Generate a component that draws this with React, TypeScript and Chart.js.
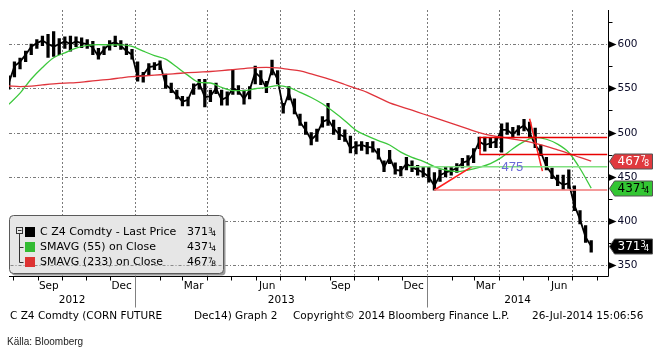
import { useEffect, useRef } from 'react';
import { Chart, registerables } from 'chart.js';

Chart.register(...registerables);

const W = 661;
const H = 355;
const FONT = '"DejaVu Sans", Verdana, sans-serif';
const ORIGIN = Date.UTC(2012, 9, 1);
const dayOf = (s: string) => (Date.parse(s + 'T00:00:00Z') - ORIGIN) / 86400000;

// ---- weekly price data (C Z4 Comdty) ----
const weekDates = [
  '2012-07-27', '2012-08-03', '2012-08-10', '2012-08-17', '2012-08-24', '2012-08-31', '2012-09-07', '2012-09-14',
  '2012-09-21', '2012-09-28', '2012-10-05', '2012-10-12', '2012-10-19', '2012-10-26', '2012-11-02', '2012-11-09',
  '2012-11-16', '2012-11-23', '2012-11-30', '2012-12-07', '2012-12-14', '2012-12-21', '2012-12-28',
  '2013-01-04', '2013-01-11', '2013-01-18', '2013-01-25', '2013-02-01', '2013-02-08', '2013-02-15', '2013-02-22',
  '2013-03-01', '2013-03-08', '2013-03-15', '2013-03-22', '2013-03-29', '2013-04-05', '2013-04-12', '2013-04-19',
  '2013-04-26', '2013-05-03', '2013-05-10', '2013-05-17', '2013-05-24', '2013-05-31', '2013-06-07', '2013-06-14',
  '2013-06-21', '2013-06-28', '2013-07-05', '2013-07-12', '2013-07-19', '2013-07-26', '2013-08-02', '2013-08-09',
  '2013-08-16', '2013-08-23', '2013-08-30', '2013-09-06', '2013-09-13', '2013-09-20', '2013-09-27', '2013-10-04',
  '2013-10-11', '2013-10-18', '2013-10-25', '2013-11-01', '2013-11-08', '2013-11-15', '2013-11-22', '2013-11-29',
  '2013-12-06', '2013-12-13', '2013-12-20', '2013-12-27',
  '2014-01-03', '2014-01-10', '2014-01-17', '2014-01-24', '2014-01-31', '2014-02-07', '2014-02-14', '2014-02-21',
  '2014-02-28', '2014-03-07', '2014-03-14', '2014-03-21', '2014-03-28', '2014-04-04', '2014-04-11', '2014-04-18',
  '2014-04-25', '2014-05-02', '2014-05-09', '2014-05-16', '2014-05-23', '2014-05-30', '2014-06-06', '2014-06-13',
  '2014-06-20', '2014-06-27', '2014-07-04', '2014-07-11', '2014-07-18', '2014-07-25',
];
const highs = [
  564, 580, 584, 592, 600, 605, 609, 611, 614, 606, 608, 609, 608, 607, 605, 603, 595, 597, 604, 609, 604, 600, 594,
  580, 568, 578, 579, 581, 566, 556, 548, 541, 540, 555, 560, 560, 548, 556, 548, 546, 571, 553, 548, 552, 575, 570,
  558, 582, 570, 533, 552, 538, 521, 512, 500, 504, 518, 533, 514, 506, 503, 496, 490, 490, 489, 490, 482, 468, 480,
  466, 462, 472, 468, 463, 462,
  461, 455, 458, 461, 462, 465, 471, 474, 482, 495, 495, 494, 495, 510, 511, 506, 508, 515, 512, 505, 486, 472, 460,
  452, 452, 458, 440, 412, 395, 378,
];
const lows = [
  549, 563, 572, 580, 588, 595, 598, 585, 586, 588, 595, 592, 597, 596, 595, 588, 583, 588, 593, 597, 594, 588, 583,
  558, 557, 565, 571, 571, 550, 545, 538, 530, 530, 543, 549, 529, 535, 544, 531, 531, 543, 543, 532, 538, 555, 554,
  545, 565, 555, 522, 537, 521, 508, 498, 486, 490, 506, 508, 498, 492, 490, 477, 476, 480, 476, 478, 470, 456, 465,
  453, 451, 458, 456, 452, 450,
  444, 435, 445, 450, 452, 455, 460, 463, 466, 482, 479, 483, 483, 478, 498, 494, 497, 502, 494, 483, 474, 458, 448,
  440, 436, 437, 412, 397, 376, 365,
];
const closes = [
  556, 575, 580, 588, 597, 601, 604, 600, 597, 600, 603, 600, 603, 601, 600, 596, 586, 594, 600, 602, 598, 592, 588,
  563, 565, 574, 575, 578, 554, 549, 542, 535, 537, 552, 556, 540, 541, 550, 537, 540, 550, 547, 538, 548, 568, 562,
  550, 572, 560, 527, 545, 526, 512, 503, 492, 498, 512, 515, 505, 498, 495, 482, 485, 486, 484, 483, 475, 461, 472,
  458, 457, 465, 461, 458, 455,
  450, 440, 452, 455, 457, 460, 466, 468, 476, 490, 486, 488, 490, 503, 503, 498, 504, 508, 500, 486, 478, 462, 453,
  445, 441, 443, 418, 402, 382, 371.75,
];

// ---- moving averages read every second week ----
const maDates = weekDates.filter((_, i) => i % 2 === 0);
const sma55 = [
  532, 544.5, 560.5, 573.5, 584.5, 590, 595.3, 598.4, 599.3, 599, 599, 597.3, 592, 587, 583, 574, 564.6, 556.8, 556,
  551, 547.5, 547.5, 549.5, 550.8, 553, 551, 545.5, 539.6, 532.5, 523.5, 513.5, 502.5, 496.3, 491, 486, 478, 472,
  467.6, 461.7, 457.6, 456, 457.8, 460.8, 465, 472, 481.8, 489.8, 494.6, 492.5, 487, 477.5, 459.5, 437.25,
];
const sma233 = [
  552.6, 552, 552.5, 553.8, 555, 555.9, 556.5, 557.7, 559, 560.2, 561.8, 563.2, 563.9, 564.8, 565.8, 566.7, 567.6,
  568.3, 569, 570, 571.2, 572.3, 573.4, 573.7, 573.1, 571.3, 569.6, 566.2, 562.5, 558.6, 554.3, 550, 545.5, 539.5,
  533.5, 529.4, 525.3, 521, 516.9, 512.8, 508.5, 504.2, 500, 496.9, 494.8, 492.7, 490.6, 487.8, 484.5, 480.5, 476.4,
  472, 467.875,
];

// ---- drawn annotations (trend tools) ----
const rangeBoxDates = ['2014-08-14', '2014-03-08', '2014-03-08', '2014-08-14'];
const rangeBoxValues = [494.4, 494.4, 475.3, 475.3];
const supportDates = ['2014-01-10', '2014-08-14'];
const supportValues = [435.2, 435.2];
const greenLevelDates = ['2013-12-08', '2014-08-14'];
const greenLevelValues = [461.5, 461.5];
const upTrendDates = ['2014-01-10', '2014-02-26'];
const upTrendValues = [435.2, 461.5];
const downTrendDates = ['2014-05-09', '2014-05-25'];
const downTrendValues = [515.7, 456.6];
const levelLabel = '475';
const levelLabelDate = '2014-04-04';
const levelLabelValue = 461;

// ---- axes ----
const yTicks = [350, 400, 450, 500, 550, 600];
const yMinor = [375, 425, 475, 525, 575, 625];
const gridDates = ['2012-10-01', '2013-01-01', '2013-04-01', '2013-07-01', '2013-10-01', '2014-01-01', '2014-04-01', '2014-07-01'];
const monthTickDates = [
  '2012-08-01', '2012-09-01', '2012-10-01', '2012-11-01', '2012-12-01', '2013-01-01', '2013-02-01', '2013-03-01',
  '2013-04-01', '2013-05-01', '2013-06-01', '2013-07-01', '2013-08-01', '2013-09-01', '2013-10-01', '2013-11-01',
  '2013-12-01', '2014-01-01', '2014-02-01', '2014-03-01', '2014-04-01', '2014-05-01', '2014-06-01', '2014-07-01',
  '2014-08-01',
];
const monthLabels = ['Sep', 'Dec', 'Mar', 'Jun', 'Sep', 'Dec', 'Mar', 'Jun'];
const monthLabelDates = ['2012-09-15', '2012-12-15', '2013-03-15', '2013-06-15', '2013-09-15', '2013-12-15', '2014-03-15', '2014-06-15'];
const yearLabels = ['2012', '2013', '2014'];
const yearBoundaryDates = ['2013-01-01', '2014-01-01'];

// ---- legend / tags ----
const legendNames = ['C Z4 Comdty - Last Price', 'SMAVG (55) on Close', 'SMAVG (233) on Close'];
const legendColors = ['#000000', '#33bb33', '#dd3333'];
const lastValues = [371.75, 437.25, 467.875];
const lastInts = ['371', '437', '467'];
const lastNums = ['3', '1', '7'];
const lastDens = ['4', '4', '8'];
const tagFills = ['#000000', '#33c633', '#e03a3e'];
const tagText = ['#ffffff', '#000000', '#ffffff'];

const footerParts = ['C Z4 Comdty (CORN FUTURE', 'Dec14) Graph 2', 'Copyright\u00a9 2014 Bloomberg Finance L.P.', '26-Jul-2014 15:06:56'];
const footerX = [10, 194, 293, 532];
const sourceText = 'Källa: Bloomberg';

function pts(dates: string[], vals: number[]) {
  return dates.map((d, i) => ({ x: dayOf(d), y: vals[i] }));
}

function fracWidth(ctx: CanvasRenderingContext2D, main: string, num: string, den: string, size: number) {
  ctx.font = `${size}px ${FONT}`;
  const mw = ctx.measureText(main).width;
  ctx.font = `${size * 0.68}px ${FONT}`;
  const nw = ctx.measureText(num).width;
  const dw = ctx.measureText(den).width;
  return mw + nw * 0.7 + dw;
}

function drawFrac(ctx: CanvasRenderingContext2D, x: number, yc: number, main: string, num: string, den: string, size: number, color: string) {
  ctx.fillStyle = color;
  ctx.textAlign = 'left';
  ctx.font = `${size}px ${FONT}`;
  ctx.textBaseline = 'middle';
  ctx.fillText(main, x, yc);
  const mw = ctx.measureText(main).width;
  ctx.font = `${size * 0.68}px ${FONT}`;
  ctx.textBaseline = 'top';
  ctx.fillText(num, x + mw, yc - size * 0.45);
  const nw = ctx.measureText(num).width;
  ctx.textBaseline = 'bottom';
  ctx.fillText(den, x + mw + nw * 0.7, yc + size * 0.5);
}

const bloombergPlugin = {
  id: 'bloombergFrame',
  beforeDatasetsDraw(chart: any) {
    const { ctx, chartArea: a } = chart;
    const xs = chart.scales.x;
    const ys = chart.scales.y;
    ctx.save();
    ctx.strokeStyle = '#7a7a7a';
    ctx.lineWidth = 1;
    ctx.setLineDash([3, 2, 1, 2]);
    yTicks.forEach((v) => {
      const py = Math.round(ys.getPixelForValue(v)) + 0.5;
      ctx.beginPath();
      ctx.moveTo(a.left, py);
      ctx.lineTo(a.right, py);
      ctx.stroke();
    });
    ctx.setLineDash([2, 2]);
    gridDates.forEach((d) => {
      const px = Math.round(xs.getPixelForValue(dayOf(d))) + 0.5;
      ctx.beginPath();
      ctx.moveTo(px, a.top);
      ctx.lineTo(px, a.bottom);
      ctx.stroke();
    });
    ctx.restore();
  },
  afterDatasetsDraw(chart: any) {
    const { ctx, chartArea: a } = chart;
    const xs = chart.scales.x;
    const ys = chart.scales.y;
    const X = (s: string) => xs.getPixelForValue(dayOf(s));
    const Y = (v: number) => ys.getPixelForValue(v);
    ctx.save();

    // level label
    ctx.fillStyle = '#6b6bd6';
    ctx.font = '13px "Liberation Sans", Arial, sans-serif';
    ctx.textAlign = 'left';
    ctx.textBaseline = 'middle';
    ctx.fillText(levelLabel, X(levelLabelDate), Y(levelLabelValue));

    // axes lines
    const bottom = Math.round(a.bottom) + 0.5;
    const right = Math.round(a.right) + 0.5;
    ctx.strokeStyle = '#000';
    ctx.lineWidth = 1;
    ctx.beginPath();
    ctx.moveTo(a.left, bottom);
    ctx.lineTo(right, bottom);
    ctx.moveTo(right, a.top);
    ctx.lineTo(right, bottom);
    ctx.stroke();

    // month ticks
    ctx.beginPath();
    monthTickDates.forEach((d) => {
      const px = Math.round(X(d)) + 0.5;
      ctx.moveTo(px, bottom);
      ctx.lineTo(px, bottom + 4);
    });
    ctx.stroke();

    // year separators
    ctx.strokeStyle = '#808080';
    ctx.beginPath();
    yearBoundaryDates.forEach((d) => {
      const px = Math.round(X(d)) + 0.5;
      ctx.moveTo(px, bottom);
      ctx.lineTo(px, bottom + 31);
    });
    ctx.stroke();

    // month + year labels
    ctx.fillStyle = '#000';
    ctx.font = `10.5px ${FONT}`;
    ctx.textAlign = 'center';
    ctx.textBaseline = 'middle';
    monthLabels.forEach((m, i) => ctx.fillText(m, X(monthLabelDates[i]), bottom + 9.5));
    const bounds = [a.left, X(yearBoundaryDates[0]), X(yearBoundaryDates[1]), a.right];
    yearLabels.forEach((t, i) => ctx.fillText(t, (bounds[i] + bounds[i + 1]) / 2, bottom + 23.5));

    // y axis ticks + labels
    ctx.textAlign = 'left';
    ctx.strokeStyle = '#000';
    yMinor.forEach((v) => {
      const py = Math.round(Y(v)) + 0.5;
      ctx.beginPath();
      ctx.moveTo(right, py);
      ctx.lineTo(right + 4, py);
      ctx.stroke();
    });
    yTicks.forEach((v) => {
      const py = Math.round(Y(v)) + 0.5;
      ctx.fillStyle = '#000';
      ctx.beginPath();
      ctx.moveTo(right, py - 3.5);
      ctx.lineTo(right + 8, py);
      ctx.lineTo(right, py + 3.5);
      ctx.closePath();
      ctx.fill();
      ctx.fillStyle = '#0a0a28';
      ctx.font = `10.5px ${FONT}`;
      ctx.textAlign = 'left';
      ctx.textBaseline = 'middle';
      ctx.fillText(String(v), right + 9, py);
    });

    // last value tags
    [2, 1, 0].forEach((k) => {
      const yc = Math.round(Y(lastValues[k])) + 0.5;
      const h = 15;
      ctx.beginPath();
      ctx.moveTo(right + 1, yc);
      ctx.lineTo(right + 6, yc - h / 2);
      ctx.lineTo(652.5, yc - h / 2);
      ctx.lineTo(652.5, yc + h / 2);
      ctx.lineTo(right + 6, yc + h / 2);
      ctx.closePath();
      ctx.fillStyle = tagFills[k];
      ctx.fill();
      ctx.strokeStyle = '#555';
      ctx.lineWidth = 1;
      ctx.stroke();
      drawFrac(ctx, right + 9, yc, lastInts[k], lastNums[k], lastDens[k], 12, tagText[k]);
    });

    // legend box
    const lx = 9.5, ly = 215.5, lw = 214, lh = 58;
    ctx.fillStyle = '#9a9a9a';
    ctx.beginPath();
    ctx.roundRect(lx + 2, ly + 2, lw, lh, 4);
    ctx.fill();
    ctx.fillStyle = '#e6e6e6';
    ctx.strokeStyle = '#5a5a5a';
    ctx.beginPath();
    ctx.roundRect(lx, ly, lw, lh, 4);
    ctx.fill();
    ctx.stroke();
    // grid line showing through
    ctx.strokeStyle = '#8a8a8a';
    ctx.setLineDash([3, 2, 1, 2]);
    const g350 = Math.round(Y(350)) + 0.5;
    ctx.beginPath();
    ctx.moveTo(lx + 1, g350);
    ctx.lineTo(lx + lw - 1, g350);
    ctx.stroke();
    ctx.setLineDash([]);
    // tree icon
    ctx.strokeStyle = '#333';
    ctx.strokeRect(16.5, 227.5, 6, 6);
    ctx.beginPath();
    ctx.moveTo(18, 230.5);
    ctx.lineTo(21.5, 230.5);
    ctx.moveTo(19.5, 233.5);
    ctx.lineTo(19.5, 262.5);
    ctx.moveTo(19.5, 247.5);
    ctx.lineTo(23.5, 247.5);
    ctx.moveTo(19.5, 262.5);
    ctx.lineTo(23.5, 262.5);
    ctx.stroke();
    const rows = [232, 247, 262];
    rows.forEach((ry, k) => {
      ctx.fillStyle = legendColors[k];
      ctx.fillRect(25, ry - 5, 10, 10);
      ctx.fillStyle = '#000';
      ctx.font = `11px ${FONT}`;
      ctx.textAlign = 'left';
      ctx.textBaseline = 'middle';
      ctx.fillText(legendNames[k], 40, ry);
      const fw = fracWidth(ctx, lastInts[k], lastNums[k], lastDens[k], 11);
      drawFrac(ctx, 216 - fw, ry, lastInts[k], lastNums[k], lastDens[k], 11, '#000');
    });

    // footer
    ctx.fillStyle = '#000';
    ctx.font = `10.5px ${FONT}`;
    ctx.textAlign = 'left';
    ctx.textBaseline = 'middle';
    footerParts.forEach((t, i) => ctx.fillText(t, footerX[i], 316));
    ctx.fillStyle = '#222';
    ctx.font = '10px "Liberation Sans", Arial, sans-serif';
    ctx.fillText(sourceText, 7, 342);
    ctx.restore();
  },
};

const App = () => {
  const ref = useRef<HTMLCanvasElement>(null);
  useEffect(() => {
    const canvas = ref.current;
    if (!canvas) return;
    const line = (data: any[], color: string, width: number, order: number, extra: any = {}) => ({
      type: 'line' as const,
      data,
      borderColor: color,
      backgroundColor: color,
      borderWidth: width,
      pointRadius: 0,
      fill: false,
      order,
      ...extra,
    });
    const chart = new Chart(canvas, {
      type: 'line',
      data: {
        datasets: [
          line(pts(rangeBoxDates, rangeBoxValues), '#e80000', 1.5, 0),
          line(pts(supportDates, supportValues), '#f07878', 1.5, 0),
          line(pts(greenLevelDates, greenLevelValues), '#80e080', 1.5, 0),
          line(pts(upTrendDates, upTrendValues), '#ff2020', 1.5, 0),
          line(pts(downTrendDates, downTrendValues), '#ff2020', 1.5, 0),
          line(pts(maDates, sma233), '#e0343c', 1.3, 1, { cubicInterpolationMode: 'monotone' }),
          line(pts(maDates, sma55), '#3cc83c', 1.3, 2, { cubicInterpolationMode: 'monotone' }),
          line(pts(weekDates, closes), '#000000', 1.8, 3),
          {
            type: 'bar' as const,
            data: weekDates.map((d, i) => ({ x: dayOf(d), y: [lows[i], highs[i]] })) as any,
            backgroundColor: '#000000',
            borderWidth: 0,
            barThickness: 2.6,
            order: 4,
          },
        ] as any,
      },
      options: {
        responsive: false,
        animation: false,
        events: [],
        layout: { padding: { left: 9, top: 10, right: 53, bottom: 79.5 } },
        plugins: { legend: { display: false }, tooltip: { enabled: false } },
        scales: {
          x: { type: 'linear', display: false, min: -65.8, max: 683, offset: false },
          y: { type: 'linear', display: false, min: 338.7, max: 638.4 },
        },
      },
      plugins: [bloombergPlugin],
    });
    return () => chart.destroy();
  }, []);
  return (
    <div style={{ position: 'fixed', left: 0, top: 0, width: W, height: H, background: '#fff' }}>
      <canvas ref={ref} width={W} height={H} style={{ display: 'block', width: W, height: H }} />
    </div>
  );
};

export default App;
